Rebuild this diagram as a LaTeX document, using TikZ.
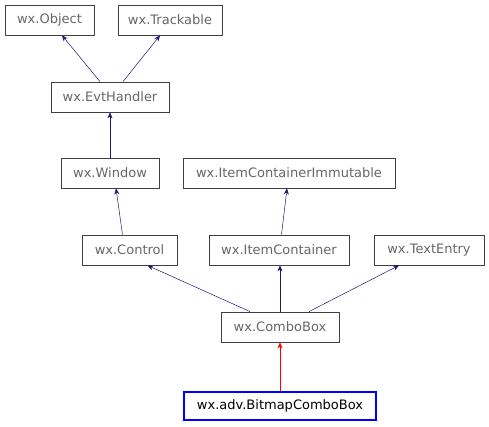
\documentclass[tikz,border=0pt]{standalone}
\usepackage{fontspec}
\setmainfont{DejaVu Sans}
\usetikzlibrary{arrows.meta}
\definecolor{txtgray}{HTML}{666666}
\definecolor{edgeblue}{HTML}{191970}
\begin{document}
\begin{tikzpicture}[x=1pt,y=-1pt,
  cls/.style={draw=black!75, line width=0.8pt, minimum height=30pt, inner sep=0pt, text=txtgray, font=\fontsize{13}{15}\selectfont},
  main/.style={cls, draw=blue, line width=2.5pt, text=black},
  inh/.style={draw=edgeblue, line width=0.5pt, -{Stealth[length=6pt,width=5pt]}},
  inhred/.style={draw=red, line width=0.5pt, -{Stealth[length=6pt,width=5pt]}}]
\useasboundingbox (0,0) rectangle (489,427);
\node[cls, minimum width=89pt] (obj) at (49.5,20) {wx.Object};
\node[cls, minimum width=104pt] (trk) at (170,20) {wx.Trackable};
\node[cls, minimum width=118pt] (evt) at (110,97) {wx.EvtHandler};
\node[cls, minimum width=98pt] (win) at (110,173) {wx.Window};
\node[cls, minimum width=212pt] (ici) at (289,173) {wx.ItemContainerImmutable};
\node[cls, minimum width=95pt] (ctl) at (129.5,250) {wx.Control};
\node[cls, minimum width=140pt] (ic) at (279,250) {wx.ItemContainer};
\node[cls, minimum width=110pt] (te) at (429,250) {wx.TextEntry};
\node[cls, minimum width=118pt] (cb) at (280,327) {wx.ComboBox};
\node[main, minimum width=192pt, minimum height=28pt] (bcb) at (280,406) {wx.adv.BitmapComboBox};
\draw[inh] ([xshift=-10pt]evt.north) -- ([xshift=12.5pt]obj.south);
\draw[inh] ([xshift=13pt]evt.north) -- ([xshift=-10pt]trk.south);
\draw[inh] (win.north) -- (evt.south);
\draw[inh] ([xshift=-7pt]ctl.north) -- ([xshift=6pt]win.south);
\draw[inh] ([xshift=2.5pt]ic.north) -- ([xshift=-2pt]ici.south);
\draw[inh] ([xshift=-30pt]cb.north) -- ([xshift=18pt]ctl.south);
\draw[inh] (cb.north) -- ([xshift=1pt]ic.south);
\draw[inh] ([xshift=29pt]cb.north) -- ([xshift=-30pt]te.south);
\draw[inhred] (bcb.north) -- (cb.south);
\end{tikzpicture}
\end{document}
